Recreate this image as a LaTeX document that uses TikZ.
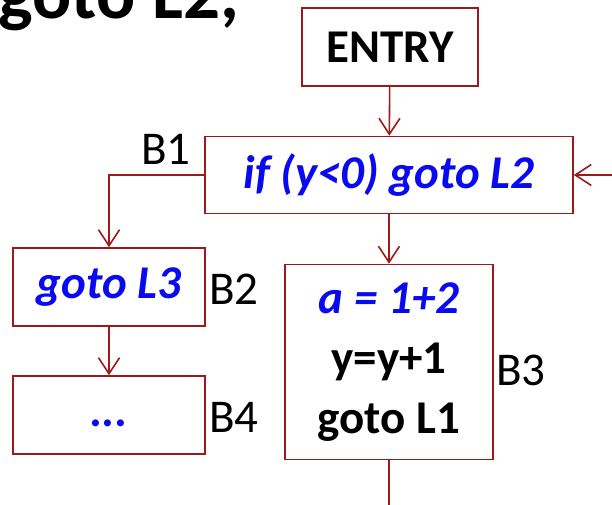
\documentclass[tikz,border=0pt]{standalone}
\usepackage{fontspec}
\setmainfont{Carlito}
\usepackage{tikz}
\usetikzlibrary{positioning, arrows.meta}
\definecolor{cfgred}{HTML}{9E1A1A}
\definecolor{cfgblue}{HTML}{0A0AF0}

\begin{document}
\begin{tikzpicture}[
  x=1pt, y=-1pt,
  block/.style={draw=cfgred, line width=1.6pt, inner sep=0pt, align=center,
    font=\fontsize{47}{60}\selectfont\bfseries},
  lbl/.style={font=\fontsize{47}{50}\selectfont},
  flow/.style={draw=cfgred, line width=1.6pt, -{Straight Barb[length=16pt, width=21pt, line width=1.6pt]}},
]
\useasboundingbox (0,0) rectangle (612,505);

% Heading line, cut off at the top
\node[font=\fontsize{73}{80}\selectfont\bfseries, anchor=base east, inner sep=0pt] (head) at (239,19) {goto L2,};

% Blocks
\node[block, minimum width=176pt, minimum height=78pt] (entry) at (390,47) {ENTRY};
\node[block, minimum width=368pt, minimum height=77pt] (b1) at (389,175) {\textit{\textcolor{cfgblue}{if (y<0) goto L2}}};
\node[block, minimum width=192pt, minimum height=78pt] (b2) at (109,287) {\textit{\textcolor{cfgblue}{goto L3}}};
\node[block, minimum width=192pt, minimum height=78pt] (b4) at (109,415) {\textit{\textcolor{cfgblue}{\vphantom{goto L3}...}}};
\node[block, minimum width=208pt, minimum height=195pt] (b3) at (389,362)
  {\textit{\textcolor{cfgblue}{a = 1+2}}\\y=y+1\\goto L1};

% Block names
\node[lbl] (nb1) at (166,149) {B1};
\node[lbl] (nb2) at (234,289) {B2};
\node[lbl] (nb3) at (521,370) {B3};
\node[lbl] (nb4) at (234,417) {B4};

% Edges
\coordinate (back) at (612,175);
\coordinate (out) at (389,505);
\draw[flow] (entry) -- (b1);
\draw[flow] (back) -- (b1.east);
\draw[flow] (b1.west) -| (b2.north);
\draw[flow] (b1) -- (b3);
\draw[flow] (b2) -- (b4);
\draw[draw=cfgred, line width=1.6pt] (b3.south) -- (out);

\end{tikzpicture}
\end{document}
